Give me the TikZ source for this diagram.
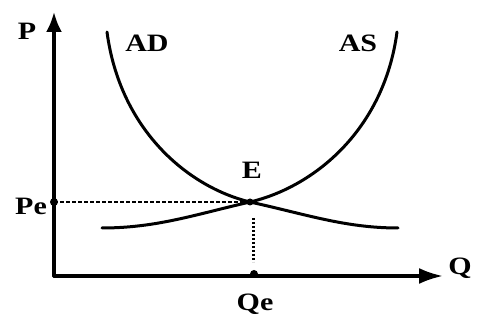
\documentclass[tikz,border=0pt]{standalone}
\usepackage{fontspec}
\setmainfont{Liberation Serif}
\usetikzlibrary{arrows.meta}
\tikzset{lbl/.style={font=\fontsize{25}{28}\selectfont\bfseries,inner sep=0pt,xscale=1.2},
  curve/.style={line width=3pt},
  guide/.style={line width=2.8pt,dash pattern=on 3.5pt off 2.5pt,line cap=butt}}
\begin{document}
\begin{tikzpicture}[x=1pt,y=-1pt,line cap=round]
  \useasboundingbox (0,0) rectangle (480,320);
  \coordinate (O) at (54,276); \coordinate (Ptip) at (54,12); \coordinate (Qtip) at (443,276);
  \coordinate (E) at (250,202); \coordinate (Pe) at (54,202); \coordinate (Qe) at (254,274);
  \coordinate (Etop) at (253,218); \coordinate (Qbot) at (253,262);
  \draw[line width=3.2pt,-{Latex[length=20pt,width=16pt]}] (O)--(Ptip);
  \draw[line width=3.2pt,-{Latex[length=24pt,width=16pt]}] (O)--(Qtip);
  % AD and AS curves
  \draw[curve] (107,32) .. controls (120,130) and (188,187) .. (E) .. controls (305,214) and (345,228) .. (398,228);
  \draw[curve] (397,32) .. controls (384,130) and (314,187) .. (E) .. controls (197,214) and (157,228) .. (102,228);
  \draw[guide] (Pe)--(E); \draw[guide,dash pattern=on 2pt off 2pt,line width=3pt] (Etop)--(Qbot);
  \fill (Pe) circle (4pt); \fill (Qe) circle (4pt); \fill (E) circle (3.5pt);
  \node[lbl] (P) at (27,31) {P}; \node[lbl] (Q) at (460,268) {Q};
  \node[lbl] (AD) at (147,43) {AD}; \node[lbl] (AS) at (358,43) {AS};
  \node[lbl] (El) at (252,170) {E};
  \node[lbl] (Pel) at (31,206) {Pe}; \node[lbl] (Qel) at (255,304) {Qe};
\end{tikzpicture}
\end{document}
